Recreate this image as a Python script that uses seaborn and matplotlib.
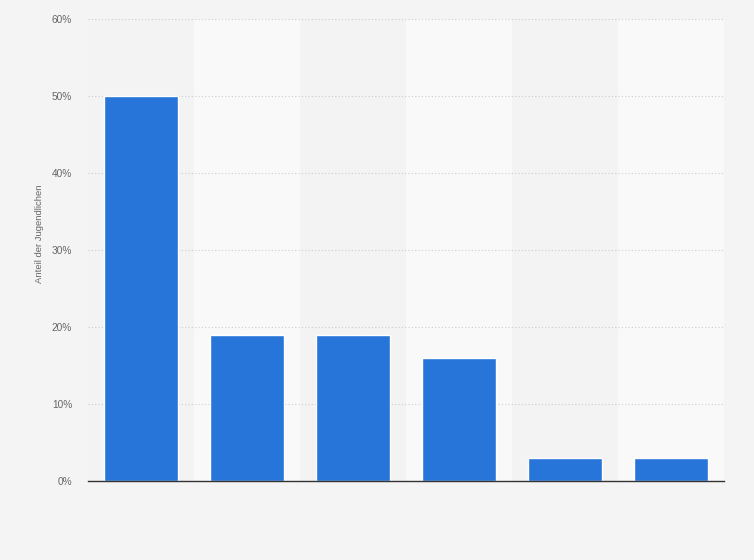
import matplotlib
matplotlib.use('Agg')
import matplotlib.pyplot as plt
import seaborn as sns
import pandas as pd
from matplotlib.ticker import FuncFormatter

# Data (x labels are not shown in the picture)
categories = ['A', 'B', 'C', 'D', 'E', 'F']
shares = [50, 19, 19, 16, 3, 3]

df = pd.DataFrame({'kategorie': categories, 'anteil': shares})

sns.set_style('white')
plt.rcParams['font.family'] = ['Liberation Sans', 'DejaVu Sans']

fig = plt.figure(figsize=(7.54, 5.6), dpi=100, facecolor='#f4f4f4')
ax = fig.add_axes([0.1167, 0.1411, 0.8435, 0.8249])
ax.set_facecolor('#f4f4f4')

# alternating column bands
for i in range(len(categories)):
    ax.axvspan(i - 0.5, i + 0.5, color='#f3f3f3' if i % 2 == 0 else '#f9f9f9',
               zorder=0, lw=0)

sns.barplot(data=df, x='kategorie', y='anteil', color='#2775d9',
            width=0.69, saturation=1, ax=ax, zorder=3)

ax.set_ylim(0, 60)
ax.set_xlim(-0.5, len(categories) - 0.5)
ax.set_yticks(range(0, 61, 10))
ax.yaxis.set_major_formatter(FuncFormatter(lambda v, p: f'{v:.0f}%'))
ax.grid(axis='y', color='#cccccc', linestyle=(0, (1, 2)), linewidth=0.8, zorder=1)
ax.set_axisbelow(True)

ax.set_xticks(range(len(categories)))
ax.set_xticklabels([''] * len(categories))
ax.tick_params(axis='x', length=0)
ax.tick_params(axis='y', length=0, labelsize=7.3, labelcolor='#666666', pad=11.5)

for s in ['top', 'right', 'left']:
    ax.spines[s].set_visible(False)
ax.spines['bottom'].set_color('#333333')
ax.spines['bottom'].set_linewidth(1)
ax.spines['bottom'].set_zorder(5)

ax.set_xlabel('')
ax.set_ylabel('Anteil der Jugendlichen', fontsize=6.8, color='#666666')
ax.yaxis.set_label_coords(-0.069, 0.535)

fig.savefig('out.png', dpi=100, facecolor=fig.get_facecolor())
